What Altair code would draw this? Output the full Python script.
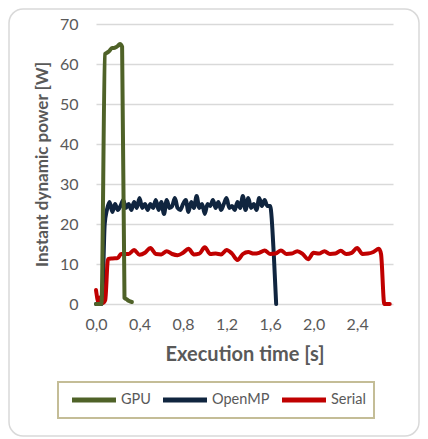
import altair as alt
import pandas as pd

series_names = ["GPU", "OpenMP", "Serial"]
series_colors = ["#4F6228", "#10253F", "#C00000"]
draw_order = ["OpenMP", "Serial", "GPU"]

x_ticks = [0.0, 0.4, 0.8, 1.2, 1.6, 2.0, 2.4]
y_ticks = [0, 10, 20, 30, 40, 50, 60, 70]

gpu_t = [0.0, 0.05, 0.083, 0.10, 0.12, 0.147, 0.165, 0.184, 0.20, 0.22, 0.24, 0.262, 0.28, 0.30, 0.33]
gpu_w = [0.0, 0.0, 62.5, 62.8, 63.2, 64.0, 64.0, 64.2, 64.5, 65.0, 64.3, 1.5, 1.2, 0.8, 0.5]

omp_t = [0.0, 0.055, 0.08, 0.10, 0.125, 0.15, 0.175, 0.20, 0.225, 0.25, 0.275,
         0.30, 0.325, 0.35, 0.375, 0.40, 0.425, 0.45, 0.475, 0.50, 0.525,
         0.55, 0.575, 0.60, 0.625, 0.65, 0.675, 0.70, 0.725, 0.75, 0.775,
         0.80, 0.825, 0.85, 0.875, 0.90, 0.925, 0.95, 0.975, 1.00, 1.025,
         1.05, 1.075, 1.10, 1.125, 1.15, 1.175, 1.20, 1.225, 1.25, 1.275,
         1.30, 1.325, 1.35, 1.375, 1.40, 1.425, 1.45, 1.475, 1.50, 1.525,
         1.55, 1.575, 1.60, 1.635, 1.656]
omp_w = [0.0, 0.0, 20.0, 23.5, 25.5, 23.0, 25.0, 23.5, 24.5, 26.0, 24.0,
         25.0, 23.5, 25.5, 24.0, 26.5, 24.0, 25.0, 23.5, 25.0, 24.0,
         26.0, 23.5, 25.5, 22.5, 26.0, 24.0, 24.5, 26.5, 24.0, 23.5,
         25.0, 26.0, 23.0, 25.5, 24.0, 27.0, 24.0, 25.0, 22.5, 25.0,
         24.5, 26.0, 24.0, 25.5, 23.5, 25.0, 26.5, 24.0, 24.5, 23.5,
         25.5, 24.0, 27.0, 23.5, 26.5, 24.0, 25.0, 23.5, 26.5, 24.5,
         26.0, 24.5, 24.5, 12.0, 0.0]

ser_t = [0.0, 0.025, 0.045, 0.065, 0.085, 0.11, 0.15, 0.20, 0.23,
         0.25, 0.30, 0.35, 0.40, 0.45, 0.50, 0.55, 0.60, 0.65, 0.70,
         0.75, 0.80, 0.85, 0.90, 0.95, 1.00, 1.05, 1.10, 1.15, 1.20,
         1.25, 1.30, 1.35, 1.40, 1.45, 1.50, 1.55, 1.60, 1.65, 1.70,
         1.75, 1.80, 1.85, 1.90, 1.95, 2.00, 2.05, 2.10, 2.15, 2.20,
         2.25, 2.30, 2.35, 2.40, 2.45, 2.50, 2.55, 2.60, 2.62, 2.65, 2.70]
ser_w = [3.5, 0.3, 1.8, 0.3, 1.0, 11.2, 11.4, 11.5, 12.5,
         12.5, 12.5, 13.5, 12.3, 12.8, 14.0, 12.5, 12.4, 13.2, 12.5,
         12.2, 12.8, 13.8, 12.4, 12.6, 14.2, 12.5, 12.6, 12.4, 13.5,
         12.6, 11.0, 12.5, 13.0, 12.6, 12.8, 13.4, 12.5, 12.6, 13.4,
         12.5, 12.6, 13.2, 12.5, 11.2, 12.8, 12.6, 13.2, 12.5, 12.6,
         13.3, 12.5, 12.8, 14.0, 12.5, 12.6, 13.0, 13.8, 12.5, 0.0, 0.0]

rows = []
for name, ts, ws in [("GPU", gpu_t, gpu_w), ("OpenMP", omp_t, omp_w), ("Serial", ser_t, ser_w)]:
    for i, (t, w) in enumerate(zip(ts, ws)):
        rows.append({"series": name, "t": t, "w": w, "i": i})
df = pd.DataFrame(rows)

x_enc = alt.X(
    "t:Q",
    scale=alt.Scale(domain=[0, 2.73], nice=False, zero=False),
    axis=alt.Axis(
        values=x_ticks,
        labelExpr="replace(format(datum.value, '.1f'), '.', ',')",
        title="Execution time [s]",
        grid=False, ticks=False, domain=False, labelFlush=False,
        labelPadding=12, titlePadding=12, titleFontSize=20,
    ),
)
y_enc = alt.Y(
    "w:Q",
    scale=alt.Scale(domain=[0, 70], nice=False),
    axis=alt.Axis(
        values=y_ticks,
        title="Instant dynamic power [W]",
        grid=True, ticks=False, domain=False,
        labelPadding=18, titlePadding=8, titleFontSize=17,
    ),
)
color_enc = alt.Color(
    "series:N",
    scale=alt.Scale(domain=series_names, range=series_colors),
    legend=alt.Legend(
        title=None, orient="none", legendX=-38, legendY=358,
        direction="horizontal",
    ),
)

frame = alt.Chart(alt.Data(values=[{"a": 1}])).mark_rect(
    cornerRadius=14, stroke="#D9D9D9", strokeWidth=1.5, fill="white", fillOpacity=0
).encode(
    x=alt.value(-87), x2=alt.value(323), y=alt.value(-15), y2=alt.value(412)
)

layers = [frame]
for name in draw_order:
    layers.append(
        alt.Chart(df)
        .transform_filter(alt.datum.series == name)
        .mark_line(strokeWidth=4, interpolate="monotone", strokeCap="round", strokeJoin="round")
        .encode(x=x_enc, y=y_enc, color=color_enc, order="i:Q")
    )

chart = (
    alt.layer(*layers)
    .properties(
        width=297, height=280,
        autosize=alt.AutoSizeParams(type="none"),
        padding={"left": 88, "top": 16, "right": 27, "bottom": 133},
        background="white",
    )
    .configure(font="Lato")
    .configure_view(stroke=None)
    .configure_axis(
        labelFont="Lato", labelFontSize=16, labelColor="#595959",
        titleFont="Lato", titleFontWeight="bold", titleColor="#595959",
        gridColor="#D9D9D9", gridWidth=1.5,
    )
    .configure_legend(
        symbolType="M-3,0H3", symbolStrokeWidth=5, symbolSize=215,
        labelFont="Lato", labelFontSize=14.5, labelColor="#595959",
        strokeColor="#C4BD97", strokeWidth=2, fillColor="white",
        padding=8, columnPadding=2, symbolOffset=18, labelOffset=17,
    )
)

chart.save("out.html", embed_options={"renderer": "svg", "actions": False})
